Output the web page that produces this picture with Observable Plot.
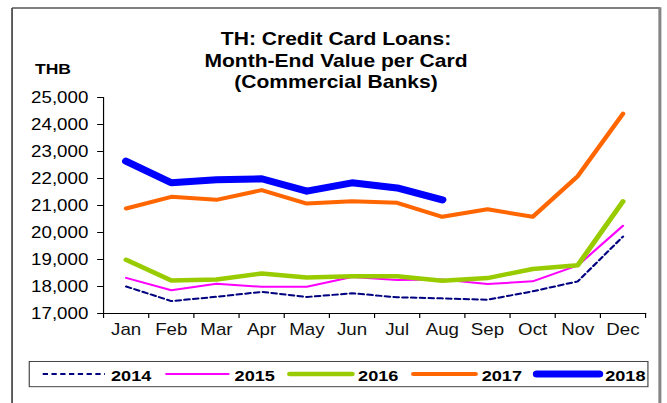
<!DOCTYPE html>
<html>
<head>
<meta charset="utf-8">
<script src="https://cdn.jsdelivr.net/npm/d3@7"></script>
<script src="https://cdn.jsdelivr.net/npm/@observablehq/plot@0.6"></script>
<style>
  html, body { margin: 0; padding: 0; background: #fff; }
  #wrap { position: relative; width: 667px; height: 403px; overflow: hidden; background: #fff; }
  #wrap svg { transform-origin: 0 0; transform: scaleX(1.17); }
</style>
</head>
<body>
<div id="wrap"></div>
<script>
// ---- data ----
const months = ["Jan","Feb","Mar","Apr","May","Jun","Jul","Aug","Sep","Oct","Nov","Dec"];
const years = ["2014","2015","2016","2017","2018"];
const v2014 = [18000, 17460, 17620, 17800, 17610, 17750, 17600, 17560, 17510, 17820, 18190, 19850];
const v2015 = [18320, 17860, 18100, 17990, 17990, 18350, 18240, 18260, 18090, 18190, 18780, 20250];
const v2016 = [18990, 18220, 18260, 18480, 18330, 18380, 18380, 18210, 18310, 18650, 18790, 21150];
const v2017 = [20890, 21320, 21210, 21570, 21070, 21160, 21100, 20580, 20860, 20580, 22090, 24400];
const v2018 = [22640, 21840, 21950, 21990, 21530, 21840, 21650, 21210];
const yTicks = [17000, 18000, 19000, 20000, 21000, 22000, 23000, 24000, 25000];
const titleLines = ["TH: Credit Card Loans:", "Month-End Value per Card", "(Commercial Banks)"];
const unitLabel = "THB";

// ---- styles ----
const SX = 1.17;               // horizontal stretch of the original picture
const W = 667 / SX;
const styles = {
  "2014": {stroke: "#000080", strokeWidth: 2, strokeDasharray: "4.5,3"},
  "2015": {stroke: "#FF00FF", strokeWidth: 2},
  "2016": {stroke: "#99CC00", strokeWidth: 4.5},
  "2017": {stroke: "#FF6600", strokeWidth: 4},
  "2018": {stroke: "#0000FF", strokeWidth: 7}
};
const seriesVals = {"2014": v2014, "2015": v2015, "2016": v2016, "2017": v2017, "2018": v2018};
const rows = y => seriesVals[y].map((v, i) => ({m: i + 0.5, v}));

const fontFamily = "'Liberation Sans', Arial, Helvetica, sans-serif";

const chart = Plot.plot({
  width: W,
  height: 403,
  marginLeft: 88,
  marginRight: W - 645 / SX,
  marginTop: 97,
  marginBottom: 90,
  style: {fontFamily, fontSize: "16px", color: "#000", background: "#fff", overflow: "visible"},
  x: {domain: [0, 12], ticks: 12, tickFormat: () => "", tickSize: 5, line: true, label: null},
  y: {domain: [17000, 25000], ticks: yTicks, tickFormat: d3.format(","), tickSize: 5, tickPadding: 8, line: true, label: null},
  marks: [
    ...years.map(y => Plot.line(rows(y), {
      x: "m", y: "v", ...styles[y], strokeLinecap: "round", strokeLinejoin: "round"
    })),
    Plot.text(months, {x: (d, i) => i + 0.5, text: d => d, frameAnchor: "bottom", dy: 22, fontSize: 16, fill: "#111"})
  ]
});
document.getElementById("wrap").appendChild(chart);

// ---- annotations: frame, title, unit, legend ----
const svg = d3.select(chart);
const g = svg.append("g");

// outer frame
g.append("line").attr("x1", 10.3).attr("x2", 10.3).attr("y1", 8).attr("y2", 420)
  .attr("stroke", "#555").attr("stroke-width", 1.6);
g.append("line").attr("x1", 10.3).attr("x2", 564).attr("y1", 8).attr("y2", 8)
  .attr("stroke", "#555").attr("stroke-width", 1.6);
g.append("line").attr("x1", 564).attr("x2", 564).attr("y1", 7.2).attr("y2", 420)
  .attr("stroke", "#858585").attr("stroke-width", 2.6);

// title
const tt = g.append("text").attr("text-anchor", "middle").attr("font-family", fontFamily)
  .attr("font-weight", "bold").attr("font-size", 18).attr("fill", "#000");
titleLines.forEach((t, i) => tt.append("tspan").attr("x", 287.2).attr("y", 45 + i * 21.7).text(t));

// unit label
g.append("text").attr("x", 29.9).attr("y", 74).attr("text-anchor", "start").attr("font-family", fontFamily)
  .attr("font-weight", "bold").attr("font-size", 15).attr("fill", "#000").text(unitLabel);

// legend
g.append("rect").attr("x", 25).attr("y", 361.5).attr("width", 553.8 - 25).attr("height", 25.2)
  .attr("fill", "#fff").attr("stroke", "#444").attr("stroke-width", 1);
years.forEach((y, i) => {
  const x0 = 36.5 + i * 105.6;
  const s = styles[y];
  g.append("line").attr("x1", x0).attr("x2", x0 + 53.2).attr("y1", 374).attr("y2", 374)
    .attr("stroke", s.stroke).attr("stroke-width", s.strokeWidth)
    .attr("stroke-dasharray", s.strokeDasharray || null)
    .attr("stroke-linecap", s.strokeDasharray ? "butt" : "round");
  g.append("text").attr("x", x0 + 58.4).attr("y", 381).attr("text-anchor", "start").attr("font-family", fontFamily)
    .attr("font-weight", "bold").attr("font-size", 15.5).attr("fill", "#000").text(y);
});
</script>
</body>
</html>
